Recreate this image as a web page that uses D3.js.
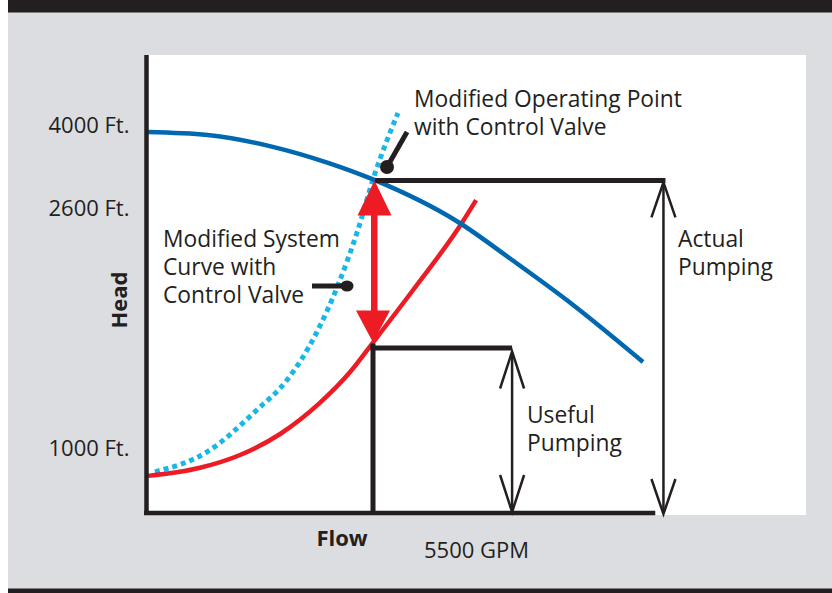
<!DOCTYPE html>
<html><head><meta charset="utf-8">
<script src="https://cdn.jsdelivr.net/npm/d3@7"></script>
<style>html,body{margin:0;padding:0;background:#fff;} svg{display:block}</style>
</head><body><svg id="c" width="832" height="593"></svg>
<script>
// ---- data ----
const yTicks = [1000, 2600, 4000];
const yTickLabels = ["1000 Ft.", "2600 Ft.", "4000 Ft."];
const pumpFlow   = [0, 1450, 3050, 4400, 5500, 7600, 8900, 10250, 12100];
const pumpHead   = [4000, 3950, 3750, 3480, 3200, 2550, 2300, 2030, 1620];
const systemFlow = [0, 1270, 2250, 3230, 4200, 4940, 5500, 6480, 7680, 8020];
const systemHead = [640, 780, 1000, 1140, 1347, 1553, 1750, 2100, 2550, 2850];
const valveFlow  = [170, 1440, 2660, 3400, 4110, 4640, 5130, 5500, 6110];
const valveHead  = [710, 1020, 1300, 1500, 1810, 2130, 2500, 3200, 4320];
const operatingFlow = 5500, operatingHead = 3200, usefulHead = 1750;
const usefulArrowFlow = 8900, actualArrowFlow = 12600, axisEndFlow = 12400;
const xTitle = "Flow", yTitle = "Head", flowLabel = "5500 GPM";
const labelOperating = ["Modified Operating Point", "with Control Valve"];
const labelSystem = ["Modified System", "Curve with", "Control Valve"];
const labelActual = ["Actual", "Pumping"];
const labelUseful = ["Useful", "Pumping"];

const C = {black:"#231f20", gray:"#dcdde0", blue:"#0067b1", red:"#ed1c24", cyan:"#1ab7e6"};
const FONT = "'Open Sans', 'Noto Sans', sans-serif";

const svg = d3.select("#c");
// frame
svg.append("rect").attr("x",8).attr("y",0).attr("width",824).attr("height",593).attr("fill",C.gray);
svg.append("rect").attr("x",8).attr("y",0).attr("width",824).attr("height",12.5).attr("fill",C.black);
svg.append("rect").attr("x",8).attr("y",588.5).attr("width",824).attr("height",5).attr("fill",C.black);
svg.append("rect").attr("x",148).attr("y",55).attr("width",658).attr("height",460).attr("fill","#fff");

// scales
const x = d3.scaleLinear().domain([0, 5500]).range([148, 373]);
const y = d3.scaleLinear().domain([0, 1000, 2600, 4000]).range([513, 455, 215, 132]);

const line = d3.line().x(d => x(d[0])).y(d => y(d[1])).curve(d3.curveMonotoneX);
const zip = (a, b) => a.map((v, i) => [v, b[i]]);

// y tick labels through axis
const yAxis = d3.axisLeft(y).tickValues(yTicks).tickSize(0).tickPadding(17)
  .tickFormat(d => yTickLabels[yTicks.indexOf(d)]);
const gy = svg.append("g").attr("transform","translate(146.5,0)").call(yAxis);
gy.select(".domain").remove();
gy.selectAll("text").attr("dy","0").attr("font-family",FONT).attr("font-size",22).attr("fill",C.black);

// curves
svg.append("path").attr("d", line(zip(valveFlow, valveHead))).attr("fill","none")
  .attr("stroke",C.cyan).attr("stroke-width",5).attr("stroke-dasharray","5 4");
svg.append("path").attr("d", line(zip(systemFlow, systemHead))).attr("fill","none")
  .attr("stroke",C.red).attr("stroke-width",4.5);
svg.append("path").attr("d", line(zip(pumpFlow, pumpHead))).attr("fill","none")
  .attr("stroke",C.blue).attr("stroke-width",4.5);

// axes lines
svg.append("line").attr("x1",146.5).attr("x2",146.5).attr("y1",55).attr("y2",515)
  .attr("stroke",C.black).attr("stroke-width",4.5);
svg.append("line").attr("x1",144).attr("x2",x(axisEndFlow)).attr("y1",y(0)).attr("y2",y(0))
  .attr("stroke",C.black).attr("stroke-width",4.5);

// operating-point horizontal & actual pumping arrow
const xo = x(operatingFlow), yo = y(operatingHead), ys = y(usefulHead);
const xa = x(actualArrowFlow), xu = x(usefulArrowFlow);
svg.append("line").attr("x1",xo+2).attr("x2",xa+2).attr("y1",yo+1).attr("y2",yo+1)
  .attr("stroke",C.black).attr("stroke-width",5);
// useful box
svg.append("line").attr("x1",xo).attr("x2",xo).attr("y1",ys+1).attr("y2",y(0))
  .attr("stroke",C.black).attr("stroke-width",5);
svg.append("line").attr("x1",xo-2.5).attr("x2",xu).attr("y1",ys+5.5).attr("y2",ys+5.5)
  .attr("stroke",C.black).attr("stroke-width",5);

function dblArrow(ax, y1, y2, hw, hl) {
  const g = svg.append("g").attr("fill","none").attr("stroke",C.black).attr("stroke-width",2.5)
    .attr("stroke-linejoin","miter");
  g.append("line").attr("x1",ax).attr("x2",ax).attr("y1",y1+1).attr("y2",y2-1);
  g.append("polyline").attr("points",`${ax-hw},${y1+hl} ${ax},${y1} ${ax+hw},${y1+hl}`);
  g.append("polyline").attr("points",`${ax-hw},${y2-hl} ${ax},${y2} ${ax+hw},${y2-hl}`);
}
dblArrow(xa, yo+3, y(0)+1, 12, 35);
dblArrow(xu, ys+9, y(0)-1, 12, 37);

// red double arrow
const rg = svg.append("g").attr("fill",C.red);
rg.append("rect").attr("x",xo-2).attr("y",yo+20).attr("width",6.5).attr("height",(ys-yo)-40);
rg.append("path").attr("d",`M${xo+1.5},${yo+1} L${xo+18.5},${yo+36} L${xo-15.5},${yo+36} Z`);
rg.append("path").attr("d",`M${xo},${ys} L${xo+17},${ys-32} L${xo-17},${ys-32} Z`);

// callouts
svg.append("line").attr("x1",387).attr("y1",167).attr("x2",407).attr("y2",132)
  .attr("stroke",C.black).attr("stroke-width",5);
svg.append("circle").attr("cx",387).attr("cy",167).attr("r",7).attr("fill",C.black);
svg.append("line").attr("x1",312).attr("y1",286).attr("x2",346).attr("y2",286)
  .attr("stroke",C.black).attr("stroke-width",5);
svg.append("ellipse").attr("cx",347).attr("cy",286).attr("rx",6.5).attr("ry",5.5).attr("fill",C.black);

// text labels
function block(lines, tx, ty, lh) {
  const t = svg.append("text").attr("font-family",FONT).attr("font-size",22.8).attr("fill",C.black);
  lines.forEach((s, i) => t.append("tspan").attr("x",tx).attr("y",ty + i*lh).text(s));
}
block(labelOperating, 414, 107, 28);
block(labelSystem, 163, 247, 28);
block(labelActual, 678, 247, 28);
block(labelUseful, 527, 423, 28);

svg.append("text").attr("x",342).attr("y",546).attr("text-anchor","middle")
  .attr("font-family",FONT).attr("font-weight","bold").attr("font-size",22).attr("fill",C.black).text(xTitle);
svg.append("text").attr("x",424).attr("y",558)
  .attr("font-family",FONT).attr("font-size",22).attr("fill",C.black).text(flowLabel);
svg.append("text").attr("transform","translate(127,300) rotate(-90)").attr("text-anchor","middle")
  .attr("font-family",FONT).attr("font-weight","bold").attr("font-size",22).attr("fill",C.black).text(yTitle);
</script></body></html>
